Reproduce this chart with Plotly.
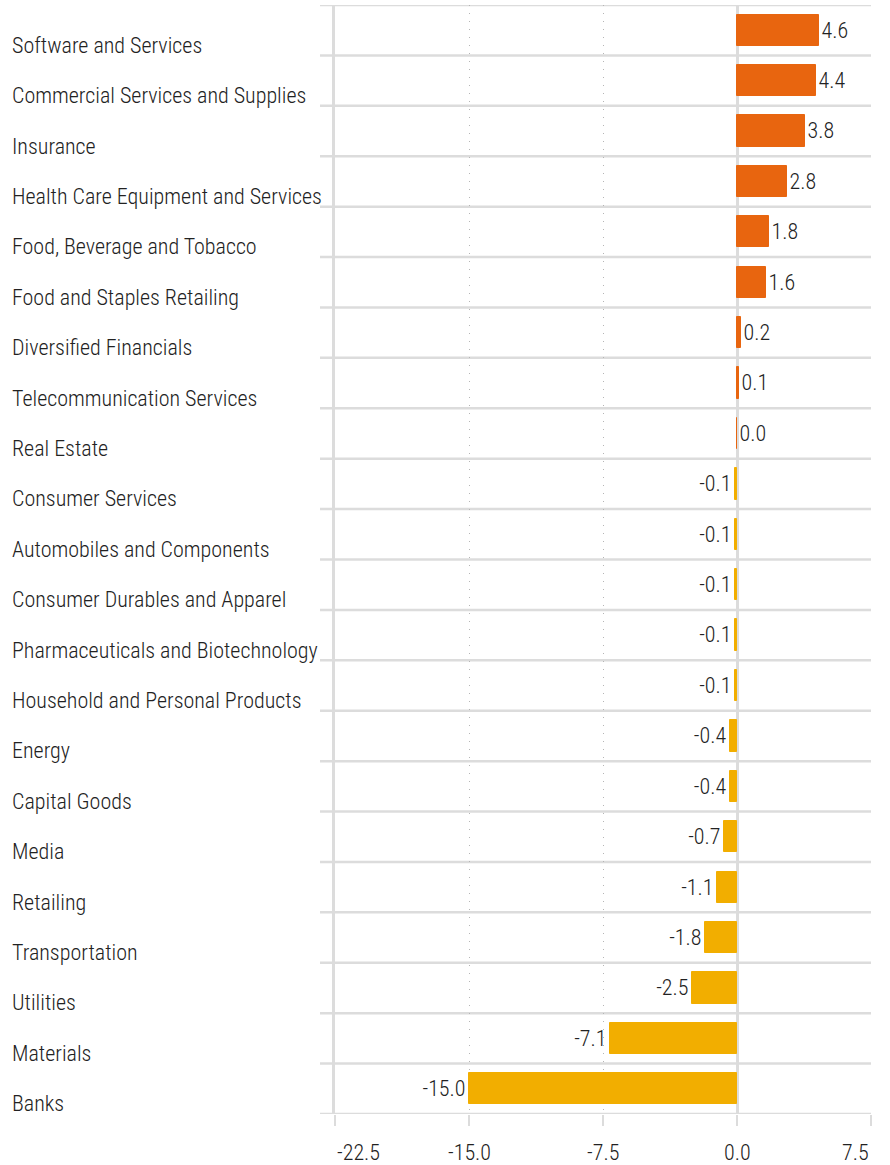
import plotly.graph_objects as go

categories = [
    "Software and Services",
    "Commercial Services and Supplies",
    "Insurance",
    "Health Care Equipment and Services",
    "Food, Beverage and Tobacco",
    "Food and Staples Retailing",
    "Diversified Financials",
    "Telecommunication Services",
    "Real Estate",
    "Consumer Services",
    "Automobiles and Components",
    "Consumer Durables and Apparel",
    "Pharmaceuticals and Biotechnology",
    "Household and Personal Products",
    "Energy",
    "Capital Goods",
    "Media",
    "Retailing",
    "Transportation",
    "Utilities",
    "Materials",
    "Banks",
]
values = [4.6, 4.4, 3.8, 2.8, 1.8, 1.6, 0.2, 0.1, 0.0, -0.1, -0.1, -0.1, -0.1,
          -0.1, -0.4, -0.4, -0.7, -1.1, -1.8, -2.5, -7.1, -15.0]
tick_vals = [-22.5, -15.0, -7.5, 0.0, 7.5]
tick_text = ["-22.5", "-15.0", "-7.5", "0.0", "7.5"]

POS = "#E8650F"
NEG = "#F2AE00"
GRID = "#dcdcdc"
TXT = "#222222"
FONT = "Roboto Condensed, Liberation Sans Narrow, Roboto, sans-serif"

ys = list(range(len(categories)))
colors = [POS if v >= 0 else NEG for v in values]

fig = go.Figure()
fig.add_trace(go.Bar(
    x=values,
    y=ys,
    orientation="h",
    width=0.62,
    marker=dict(color=colors, line=dict(color=colors, width=1)),
    text=[f"{v:.1f}" for v in values],
    textposition="outside",
    textfont=dict(family=FONT, size=22, color=TXT, weight=300),
    cliponaxis=False,
    hoverinfo="skip",
))

# row separators, running a little past the left edge of the plot
shapes = []
for i in range(len(categories) + 1):
    shapes.append(dict(
        type="line", xref="paper", yref="y",
        x0=-0.028, x1=1.0, y0=i - 0.5, y1=i - 0.5,
        line=dict(color=GRID, width=2.5), layer="below",
    ))

annotations = []
for i, c in enumerate(categories):
    annotations.append(dict(
        text=c, xref="paper", yref="y", x=-0.6063, y=i,
        xanchor="left", yanchor="middle", yshift=-15, showarrow=False,
        font=dict(family=FONT, size=22, color=TXT, weight=300),
    ))
# x tick labels: outer ones pulled inside the plot edges
for j, (tv, tt) in enumerate(zip(tick_vals, tick_text)):
    anchor = "left" if j == 0 else ("right" if j == len(tick_vals) - 1 else "center")
    annotations.append(dict(
        text=tt, xref="x", yref="paper", x=tv, y=0,
        xanchor=anchor, yanchor="middle", yshift=-38, showarrow=False,
        font=dict(family=FONT, size=22, color=TXT, weight=300),
    ))

fig.update_layout(
    width=890, height=1165,
    margin=dict(l=335, r=19, t=5, b=51),
    plot_bgcolor="white", paper_bgcolor="white",
    showlegend=False,
    bargap=0,
    shapes=shapes,
    annotations=annotations,
    xaxis=dict(
        range=[-22.5, 7.5],
        tickvals=tick_vals,
        showticklabels=False,
        ticks="outside", ticklen=11, tickwidth=2, tickcolor=GRID,
        showgrid=True, gridcolor="#b5b5b5", gridwidth=1, griddash="1px,7px",
        zeroline=True, zerolinecolor=GRID, zerolinewidth=2.5,
        showline=False,
    ),
    yaxis=dict(
        range=[len(categories) - 0.5, -0.5],
        showticklabels=False, showgrid=False, zeroline=False,
        showline=True, linecolor=GRID, linewidth=2.5,
        ticks="",
    ),
)

fig.write_html(
    "out.html",
    config={"displayModeBar": False},
    post_script="document.body.style.margin='0';",
)
